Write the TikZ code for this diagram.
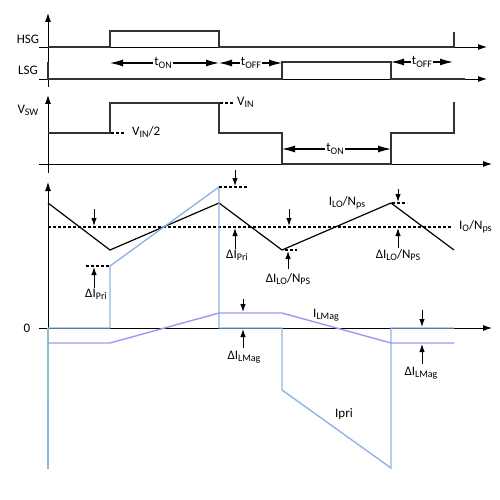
\documentclass[tikz,border=0pt]{standalone}
\usepackage{fontspec}
\setmainfont{Carlito}
\usetikzlibrary{arrows.meta}
\definecolor{pri}{RGB}{141,182,228}
\definecolor{mag}{RGB}{155,155,240}
\definecolor{sig}{RGB}{50,50,50}
\definecolor{tealish}{RGB}{130,195,205}
\newcommand{\mysub}[1]{\raisebox{-0.35ex}{\fontsize{10}{11}\selectfont #1}}
\begin{document}
\begin{tikzpicture}[x=1pt,y=-1pt,
  axis/.style={line width=0.9pt,-{Latex[length=9pt,width=6pt]}},
  sigline/.style={line width=1.5pt,color=sig},
  dimarrow/.style={line width=1.1pt,{Latex[length=13pt,width=7pt]}-{Latex[length=13pt,width=7pt]}},
  tick/.style={line width=1pt,-{Latex[length=8pt,width=5.5pt]}},
  lbl/.style={font=\fontsize{13}{15}\selectfont,inner sep=1pt},
  dsh/.style={line width=1.1pt,dash pattern=on 3pt off 2pt}]
\useasboundingbox (0,0) rectangle (500,500);
% ---------- axes ----------
\draw[axis] (48,87) -- (48,13);
\draw[axis] (39,47) -- (487,47);
\draw[axis] (39,79) -- (487,79);
\draw[axis] (48,173) -- (48,95);
\draw[axis] (39,164) -- (492,164);
\draw[axis] (48,469) -- (48,182);
\draw[axis] (39,328) -- (492,328);
% ---------- HSG / LSG ----------
\draw[sigline] (48,47) -- (110,47) -- (110,31) -- (219,31) -- (219,47) -- (454,47) -- (454,32);
\draw[sigline] (48,62) -- (48,79) -- (282,79) -- (282,62) -- (391,62) -- (391,79) -- (465,79);
\node[lbl] (hsg) at (28,39) {HSG};
\node[lbl] (lsg) at (28,70) {LSG};
\coordinate (a1) at (110,63); \coordinate (a2) at (219,63);
\coordinate (a3) at (282,63); \coordinate (a4) at (391,62); \coordinate (a5) at (453,62);
\draw[dimarrow] (a1) -- (a2);
\node[lbl,fill=white] (ton1) at (163,63) {t\mysub{ON}};
\draw[dimarrow] (a2) -- (a3);
\node[lbl,fill=white] (toff1) at (251,63) {t\mysub{OFF}};
\draw[dimarrow] (a4) -- (a5);
\node[lbl,fill=white] (toff2) at (422,62) {t\mysub{OFF}};
% ---------- VSW ----------
\draw[sigline] (48,133) -- (110,133) -- (110,103) -- (219,103) -- (219,133) -- (282,133) -- (282,164) -- (391,164) -- (391,133) -- (454,133) -- (454,102);
\node[lbl] (vsw) at (28,110) {V\mysub{SW}};
\draw[dsh] (111,133) -- (124,133);
\node[lbl,anchor=west] (vin2) at (131,132) {V\mysub{IN}/2};
\draw[dsh] (220,103) -- (234,103);
\node[lbl,anchor=west] (vin) at (236,102) {V\mysub{IN}};
\coordinate (b1) at (282,149); \coordinate (b2) at (391,149);
\draw[dimarrow] (b1) -- (b2);
\node[lbl,fill=white] (ton2) at (335,149) {t\mysub{ON}};
% ---------- currents ----------
\draw[line width=1.2pt] (48,203) -- (110,250) -- (219,203) -- (282,250) -- (391,203) -- (454,250);
\draw[dsh] (48,227) -- (452,227);
\node[lbl,anchor=west] (io) at (458,227) {I\mysub{O}/N\mysub{ps}};
\node[lbl] (ilo) at (347,203) {I\mysub{LO}/N\mysub{ps}};
% primary current
\draw[pri,line width=1.4pt] (48,328) -- (110,328) -- (110,266) -- (219,187) -- (219,328) -- (282,328) -- (282,390) -- (391,468) -- (391,328) -- (454,328);
\draw[pri,line width=1.6pt] (48,328) -- (48,469);
\draw[tealish,line width=1.6pt] (48,329) -- (48,398);
% magnetizing current
\draw[mag,line width=1.4pt] (48,343) -- (110,343) -- (219,313) -- (282,313) -- (391,343) -- (454,343);
\node[lbl] (ilmag) at (326,315) {I\mysub{LMag}};
\node[lbl] (ipri) at (344,414) {Ipri};
\node[lbl] (zero) at (27,328) {0};
% dashed markers
\draw[dsh] (86,266) -- (110,266);
\draw[dsh] (219,187) -- (247,187);
\draw[dsh] (285,250) -- (297,250);
\draw[dsh] (392,203) -- (407,203);
% tick arrows
\draw[tick] (94,209) -- (94,226);
\draw[tick] (94,288) -- (94,267);
\node[lbl] (dpri1) at (96,294) {ΔI\mysub{Pri}};
\draw[tick] (235,170) -- (235,186);
\draw[tick] (235,249) -- (235,228);
\node[lbl] (dpri2) at (237,255) {ΔI\mysub{Pri}};
\draw[tick] (289,209) -- (289,226);
\draw[tick] (288,269) -- (288,251);
\node[lbl] (dlo1) at (288,279) {ΔI\mysub{LO}/N\mysub{PS}};
\draw[tick] (398,189) -- (398,202);
\draw[tick] (398,248) -- (398,228);
\node[lbl] (dlo2) at (398,255) {ΔI\mysub{LO}/N\mysub{PS}};
\draw[tick] (243,299) -- (243,312);
\draw[tick] (243,348) -- (243,329);
\node[lbl] (dmag1) at (244,357) {ΔI\mysub{LMag}};
\draw[tick] (422,310) -- (422,327);
\draw[tick] (422,364) -- (422,344);
\node[lbl] (dmag2) at (421,373) {ΔI\mysub{LMag}};
\end{tikzpicture}
\end{document}
